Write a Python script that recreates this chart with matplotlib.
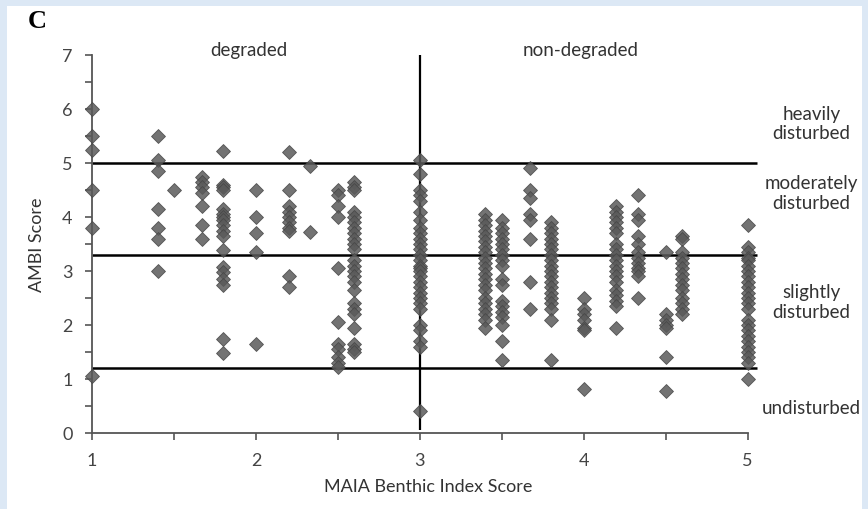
import matplotlib
matplotlib.use('Agg')
import matplotlib.pyplot as plt
from matplotlib.patches import Rectangle
from matplotlib.ticker import MultipleLocator

# MAIA score columns and the AMBI scores
maia = [1, 1.4, 1.5, 1.67, 1.8, 2, 2.2, 2.33, 2.5, 2.6, 3,
        3.4, 3.5, 3.67, 3.8, 4, 4.2, 4.33, 4.5, 4.6, 5]
ambi = [
    [6.0, 5.5, 5.25, 4.5, 3.8, 1.05],
    [5.5, 5.05, 4.85, 4.15, 3.8, 3.6, 3.0],
    [4.5],
    [4.75, 4.65, 4.55, 4.45, 4.2, 3.85, 3.6],
    [5.22, 4.6, 4.55, 4.5, 4.15, 4.05, 4.0, 3.95, 3.85, 3.75, 3.65, 3.38,
     3.07, 2.98, 2.85, 2.75, 1.74, 1.48],
    [4.5, 4.0, 3.7, 3.35, 1.65],
    [5.2, 4.5, 4.2, 4.1, 4.0, 3.9, 3.8, 3.75, 2.9, 2.7],
    [4.95, 3.72],
    [4.5, 4.4, 4.2, 4.0, 3.05, 2.05, 1.65, 1.55, 1.4, 1.3, 1.22],
    [4.65, 4.55, 4.5, 4.1, 4.0, 3.9, 3.8, 3.7, 3.6, 3.5, 3.4, 3.2, 3.1,
     3.0, 2.9, 2.8, 2.65, 2.4, 2.3, 2.2, 1.95, 1.65, 1.55, 1.5],
    [5.05, 4.8, 4.5, 4.4, 4.3, 4.1, 3.95, 3.8, 3.7, 3.6, 3.5, 3.4, 3.3,
     3.2, 3.1, 3.05, 3.0, 2.9, 2.8, 2.7, 2.6, 2.5, 2.4, 2.3, 2.0, 1.9,
     1.7, 1.6, 0.4],
    [4.05, 3.95, 3.85, 3.75, 3.65, 3.55, 3.45, 3.35, 3.25, 3.15, 3.05,
     2.95, 2.85, 2.75, 2.65, 2.5, 2.4, 2.3, 2.2, 2.1, 1.95],
    [3.95, 3.8, 3.7, 3.6, 3.5, 3.4, 3.3, 3.2, 3.1, 2.85, 2.75, 2.45,
     2.35, 2.25, 2.15, 2.0, 1.7, 1.35],
    [4.9, 4.5, 4.35, 4.05, 3.95, 3.6, 2.8, 2.3],
    [3.9, 3.8, 3.7, 3.6, 3.5, 3.4, 3.3, 3.2, 3.1, 3.0, 2.9, 2.8, 2.7,
     2.6, 2.5, 2.4, 2.3, 2.1, 1.35],
    [2.5, 2.3, 2.2, 2.1, 1.95, 1.9, 0.82],
    [4.2, 4.1, 4.0, 3.9, 3.8, 3.7, 3.5, 3.4, 3.3, 3.2, 3.1, 3.0, 2.9,
     2.8, 2.65, 2.55, 2.45, 2.35, 1.95],
    [4.4, 4.05, 3.95, 3.65, 3.5, 3.35, 3.25, 3.15, 3.05, 3.0, 2.9, 2.5],
    [3.35, 2.2, 2.1, 2.0, 1.95, 1.4, 0.78],
    [3.65, 3.6, 3.35, 3.25, 3.15, 3.05, 2.95, 2.85, 2.75, 2.65, 2.5,
     2.4, 2.3, 2.2],
    [3.85, 3.45, 3.35, 3.25, 3.2, 3.1, 3.0, 2.9, 2.8, 2.7, 2.6, 2.5,
     2.4, 2.3, 2.1, 2.0, 1.9, 1.8, 1.7, 1.6, 1.5, 1.4, 1.3, 1.0],
]

thresholds = [1.2, 3.3, 5.0]
split = 3
classes = ['heavily\ndisturbed', 'moderately\ndisturbed',
           'slightly\ndisturbed', 'undisturbed']
class_y = [5.74, 4.45, 2.43, 0.48]

xs, ys = [], []
for m, col in zip(maia, ambi):
    xs += [m] * len(col)
    ys += col

fig = plt.figure(figsize=(8.68, 5.10), dpi=100)
fig.patch.set_facecolor('#dce8f5')
fig.patches.append(Rectangle((7 / 868, 0), 855 / 868, 503 / 510,
                             transform=fig.transFigure, facecolor='white',
                             edgecolor='none', zorder=-10))

ax = fig.add_axes([92 / 868, 76 / 510, 672 / 868, 378 / 510])
ax.set_facecolor('none')

for t in thresholds:
    ax.hlines(t, 1, 5.06, color='black', lw=1.8, zorder=1, clip_on=False)
ax.vlines(split, 0.05, 7, color='black', lw=1.6, zorder=1)

ax.plot(xs, ys, 'D', ms=7.5, mfc='#5a5a5a', mec='#454545', mew=0.6,
        alpha=0.85, clip_on=False, zorder=3)

ax.set_xlim(1, 5.1)
ax.set_ylim(0, 7)
for s in ['top', 'right']:
    ax.spines[s].set_visible(False)
ax.spines['bottom'].set_bounds(1, 5)
for s in ['left', 'bottom']:
    ax.spines[s].set_color('#555555')
    ax.spines[s].set_linewidth(1.3)

ax.xaxis.set_major_locator(MultipleLocator(1))
ax.xaxis.set_minor_locator(MultipleLocator(0.5))
ax.yaxis.set_major_locator(MultipleLocator(1))
ax.yaxis.set_minor_locator(MultipleLocator(0.5))
ax.tick_params(which='both', direction='out', length=5, width=1.2,
               color='#555555', labelcolor='#444444', labelsize=13)
ax.tick_params(axis='x', pad=9)
ax.tick_params(axis='y', pad=9)
for lab in ax.get_xticklabels() + ax.get_yticklabels():
    lab.set_family('Lato')

ax.set_xlabel('MAIA Benthic Index Score', family='Lato', fontsize=13,
              color='#333333', labelpad=7)
ax.set_ylabel('AMBI Score', family='Lato', fontsize=13, color='#333333',
              labelpad=12)

ax.text(1.96, 7.1, 'degraded', family='Lato', fontsize=13.5,
        color='#333333', ha='center', va='center', clip_on=False)
ax.text(3.98, 7.1, 'non-degraded', family='Lato', fontsize=13.5,
        color='#333333', ha='center', va='center', clip_on=False)
for lab, y in zip(classes, class_y):
    ax.text(5.39, y, lab, family='Lato', fontsize=13.5, color='#333333',
            ha='center', va='center', linespacing=1.2, clip_on=False)

fig.text(28 / 868, 1 - 21 / 510, 'C', family='Liberation Serif',
         fontweight='bold', fontsize=19, ha='left', va='center')

fig.savefig('out.png', dpi=100, facecolor=fig.get_facecolor())
